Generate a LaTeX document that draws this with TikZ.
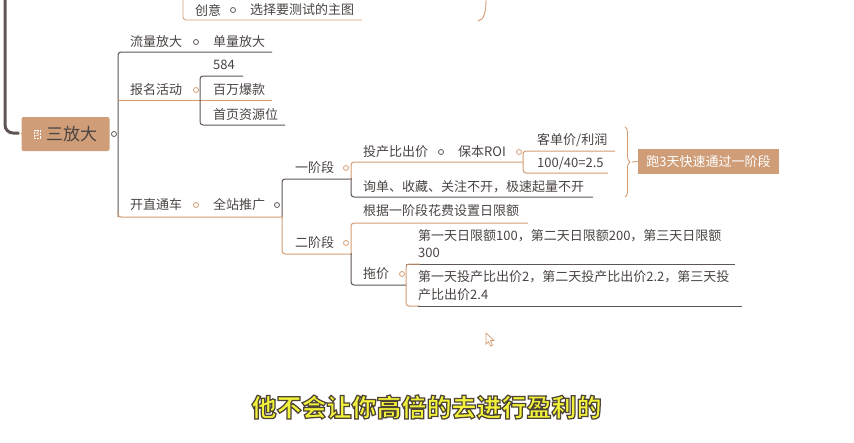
\documentclass[tikz,border=0pt]{standalone}
\usepackage{fontspec}
\setmainfont{Noto Sans CJK SC}
\newfontfamily\subfontfam{Noto Sans CJK SC}[FakeBold=5]
\usetikzlibrary{decorations.pathreplacing}
\definecolor{txt}{HTML}{4A4442}
\definecolor{dk}{HTML}{5E5654}
\definecolor{org}{HTML}{D39C74}
\definecolor{tan}{HTML}{CF9D78}
\definecolor{yel}{HTML}{F2F23A}
\definecolor{outl}{HTML}{4E4436}
\begin{document}
\begin{tikzpicture}[x=1pt,y=-1pt,
 lbl/.style={anchor=west,inner sep=0pt,text=txt,font=\fontsize{13}{16}\selectfont},
 dkl/.style={draw=dk,line width=1pt,rounded corners=3pt},
 orl/.style={draw=org,line width=1pt,rounded corners=3pt},
 knob/.style={draw=#1,circle,minimum size=5pt,inner sep=0pt,line width=0.8pt,fill=white},
 sub/.style={inner sep=0pt,font=\fontsize{25}{28}\subfontfam\bfseries}]
\useasboundingbox[fill=white] (0,0) rectangle (854,442);

% top partial branch
\draw[org,line width=0.8pt,rounded corners=3pt] (183,0) -- (183,20) -- (362,20);
\draw[org,line width=0.9pt] (486,0) .. controls (486,12) and (484,20) .. (478,21);
\node[lbl] (cy) at (195,10) {创意};
\node[knob=dk] (kcy) at (233,10) {};
\node[lbl] (xz) at (250,10) {选择要测试的主图};

% left thick line
\draw[dk,line width=3pt,rounded corners=8pt] (5,-2) -- (5,133) -- (19,133);
\draw[org,line width=0.8pt,densely dotted] (19,133) -- (22,133);

% root
\node[fill=tan,rounded corners=2pt,minimum width=88pt,minimum height=34pt,inner sep=0pt] (root) at (65.5,134) {};
\node[draw=white,line width=0.5pt,densely dotted,inner sep=0.8pt,font=\fontsize{8}{9}\selectfont,text=white] (num) at (37,134) {3};
\node[anchor=west,inner sep=0pt,text=txt,font=\fontsize{17}{20}\selectfont] (rt) at (46,134) {三放大};
\node[knob=dk] (kroot) at (114,134) {};

% level 1 lines
\draw[dkl] (272,52) -- (118,52) -- (118,217);
\draw[orl] (118,212) -- (118,217) -- (282,217);
\draw[org,line width=1pt] (118,100) -- (272,100);

\node[lbl] (llfd) at (130,42) {流量放大};
\node[knob=dk] (kll) at (196,42) {};
\node[lbl] (dlfd) at (213,42) {单量放大};

\node[lbl] (bmhd) at (130,90) {报名活动};
\node[knob=org] (kbm) at (196,90) {};
\draw[dkl] (243,76) -- (200,76) -- (200,125) -- (285,125);
\node[lbl] (n584) at (213,65) {584};
\node[lbl] (bwbk) at (213,90) {百万爆款};
\node[lbl] (sy) at (213,115) {首页资源位};

\node[lbl] (kztc) at (130,205) {开直通车};
\node[knob=org] (kkz) at (196,205) {};
\node[lbl] (qztg) at (213,205) {全站推广};
\node[knob=dk] (kqz) at (277,205) {};

% stage lines
\draw[dkl] (350,179) -- (282,179) -- (282,217);
\draw[orl] (282,215) -- (282,254) -- (350,254);
\node[lbl] (yjd) at (295,168) {一阶段};
\node[knob=org] (kyj) at (346,168) {};
\node[lbl] (ejd) at (295,243) {二阶段};
\node[knob=org] (kej) at (346,243) {};

% stage 1 children
\draw[orl] (523,162) -- (351,162) -- (351,180);
\draw[dkl] (351,178) -- (351,197) -- (593,197);
\node[lbl] (tcb) at (363,152) {投产比出价};
\node[knob=dk] (ktcb) at (441,152) {};
\node[lbl] (bb) at (458,152) {保本ROI};
\node[knob=org] (kbb) at (519,152) {};
\draw[orl] (615,151) -- (523,151) -- (523,173) -- (608,173);
\node[lbl] (kdj) at (537,140) {客单价/利润};
\node[lbl] (roi) at (537,163) {100/40=2.5};
\node[lbl] (xd) at (363,187) {询单、收藏、关注不开，极速起量不开};

% brace and callout
\draw[org,line width=0.9pt,decorate,decoration={brace,amplitude=5pt}] (625,127) -- (625,197);
\node[fill=tan,minimum width=141pt,minimum height=25pt,inner sep=0pt,text=white,font=\fontsize{13}{16}\selectfont] (call) at (708.5,161.5) {跑3天快速通过一阶段};
\coordinate (btip) at (632,162);
\draw[org,line width=0.9pt] (btip) -- (call.west);

% stage 2 children
\draw[orl] (528,223) -- (351,223) -- (351,255);
\draw[dkl] (351,253) -- (351,285) -- (406,285);
\node[lbl] (gj) at (363,211) {根据一阶段花费设置日限额};
\node[lbl] (tj) at (363,274) {拖价};
\node[knob=org] (ktj) at (402,274) {};
\draw[dk,line width=0.9pt] (406,264) -- (735,264);
\draw[orl] (420,264) -- (406,264) -- (406,306) -- (420,306);
\draw[dk,line width=0.9pt] (418,306) -- (742,306);
\node[lbl] (a1) at (418,236) {第一天日限额100，第二天日限额200，第三天日限额};
\node[lbl] (a2) at (418,253) {300};
\node[lbl] (b1) at (418,277) {第一天投产比出价2，第二天投产比出价2.2，第三天投};
\node[lbl] (b2) at (418,295) {产比出价2.4};

% cursor
\draw[org,line width=0.7pt,fill=white] (486,333) -- (486,344) -- (488.5,341.5) -- (490.5,346) -- (492.5,345) -- (490.5,340.5) -- (494,340.5) -- cycle;

% subtitle: yellow fill with dark stroke via text render mode
\node[sub] (subt) at (426.5,407) {\color{yel}\special{pdf:code 0.306 0.267 0.212 RG}他不会让你高倍的去进行盈利的};
\end{tikzpicture}
\end{document}
